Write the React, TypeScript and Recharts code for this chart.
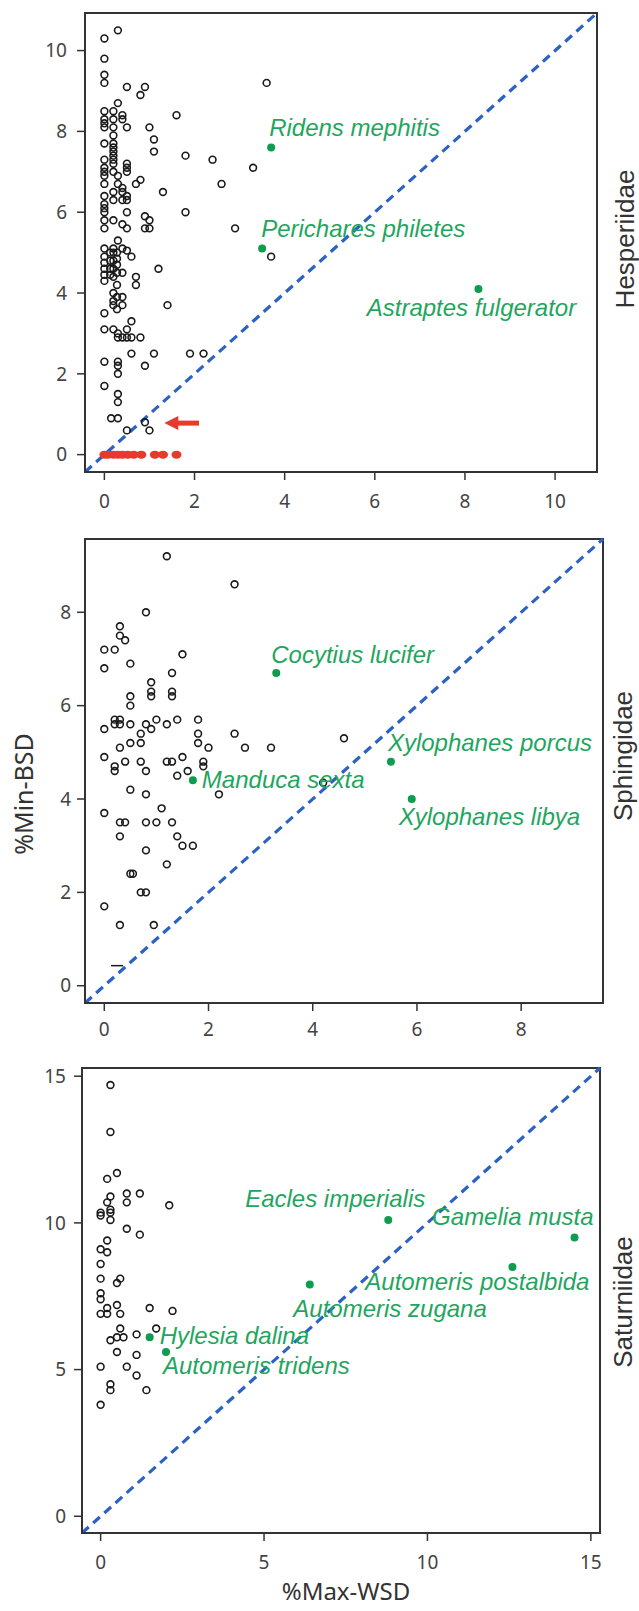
import {
    ScatterChart,
    Scatter,
    XAxis,
    YAxis,
    ReferenceLine,
    ReferenceArea,
} from "recharts";

// ---- data ----

const HESP_TICKS = [0, 2, 4, 6, 8, 10];
const SPH_TICKS = [0, 2, 4, 6, 8];
const SAT_TICKS = [0, 5, 10, 15];

const HESP_DOMAIN: [number, number] = [-0.43, 10.93];
const SPH_DOMAIN: [number, number] = [-0.37, 9.57];
const SAT_DOMAIN: [number, number] = [-0.57, 15.28];

const hespOpen: [number, number][] = [
    [0, 10.3], [0, 9.8], [0, 9.4], [0, 9.2], [0, 8.5], [0, 8.3], [0, 8.2], [0, 8.1],
    [0, 7.7], [0, 7.3], [0, 7.1], [0, 7.0], [0, 6.9], [0, 6.7], [0, 6.4], [0, 6.2],
    [0, 6.1], [0, 6.0], [0, 5.8], [0, 5.6], [0, 5.1], [0, 4.9], [0, 4.75], [0, 4.6],
    [0, 4.45], [0, 4.3], [0, 3.5], [0, 3.1], [0, 2.3], [0, 1.7],
    [0.13, 5.0], [0.13, 4.8], [0.13, 4.6], [0.13, 4.45],
    [0.2, 8.5], [0.2, 8.3], [0.2, 8.1], [0.2, 7.9], [0.2, 7.7], [0.2, 7.6], [0.2, 7.5],
    [0.2, 7.4], [0.2, 7.3], [0.2, 7.2], [0.2, 7.0], [0.2, 6.5], [0.2, 6.3], [0.2, 5.8],
    [0.2, 5.1], [0.2, 5.0], [0.2, 4.8], [0.2, 4.6], [0.2, 4.4], [0.2, 4.0], [0.2, 3.8],
    [0.2, 3.7], [0.2, 3.1], [0.15, 0.9],
    [0.3, 10.5], [0.3, 8.7], [0.3, 6.9], [0.3, 6.7], [0.3, 5.3], [0.28, 5.0], [0.28, 4.85],
    [0.28, 4.7], [0.28, 4.5], [0.28, 4.2], [0.28, 3.9], [0.28, 3.6], [0.3, 3.0], [0.3, 2.9],
    [0.3, 2.3], [0.3, 2.2], [0.3, 2.0], [0.3, 1.5], [0.3, 1.3], [0.3, 0.9],
    [0.4, 8.4], [0.4, 8.3], [0.4, 6.6], [0.4, 6.5], [0.4, 6.3], [0.4, 5.7], [0.4, 5.1],
    [0.4, 4.5], [0.4, 3.9], [0.4, 3.7], [0.4, 2.9],
    [0.5, 9.1], [0.5, 8.1], [0.5, 7.2], [0.5, 7.1], [0.5, 7.0], [0.5, 6.4], [0.5, 6.3],
    [0.5, 6.0], [0.5, 5.6], [0.5, 5.05], [0.5, 3.1], [0.5, 2.9], [0.5, 0.6],
    [0.6, 4.9], [0.6, 3.3], [0.6, 2.9], [0.6, 2.5],
    [0.7, 6.7], [0.7, 4.4], [0.7, 4.2],
    [0.8, 8.9], [0.8, 6.8], [0.8, 2.9],
    [0.9, 9.1], [0.9, 5.9], [0.9, 5.6], [0.9, 2.2], [0.9, 0.8],
    [1.0, 8.1], [1.0, 5.8], [1.0, 5.6], [1.0, 0.6],
    [1.1, 7.8], [1.1, 7.5], [1.1, 2.5],
    [1.2, 4.6], [1.3, 6.5], [1.4, 3.7], [1.6, 8.4], [1.8, 7.4], [1.8, 6.0],
    [1.9, 2.5], [2.2, 2.5], [2.4, 7.3], [2.6, 6.7], [2.9, 5.6], [3.3, 7.1],
    [3.6, 9.2], [3.7, 4.9],
];

const hespZeroX = [0, 0.08, 0.2, 0.3, 0.4, 0.52, 0.65, 0.82, 1.12, 1.3, 1.6];
const hespArrow = { fromX: 2.1, toX: 1.33, y: 0.78 };

const hespNamed: [string, number, number][] = [
    ["Ridens mephitis", 3.7, 7.6],
    ["Perichares philetes", 3.5, 5.1],
    ["Astraptes fulgerator", 8.3, 4.1],
];

const sphOpen: [number, number][] = [
    [1.2, 9.2], [2.5, 8.6], [0.8, 8.0], [0.3, 7.7], [0.3, 7.5], [0.4, 7.4], [0, 7.2],
    [0.2, 7.2], [1.5, 7.1], [0, 6.8], [0.5, 6.9], [1.3, 6.7], [0.9, 6.5], [0.9, 6.3],
    [0.9, 6.2], [1.3, 6.3], [1.3, 6.2], [0.5, 6.2], [0.5, 6.0], [0, 5.5], [0.2, 5.7],
    [0.3, 5.7], [0.2, 5.6], [0.3, 5.6], [0.5, 5.6], [0.8, 5.6], [0.9, 5.5], [1.0, 5.7],
    [1.2, 5.6], [1.4, 5.7], [0.7, 5.4], [1.8, 5.7], [1.8, 5.4], [1.8, 5.2], [2.0, 5.1],
    [2.5, 5.4], [2.7, 5.1], [3.2, 5.1], [0.5, 5.2], [0.7, 5.2], [0.3, 5.1], [0, 4.9],
    [0.2, 4.7], [0.2, 4.6], [0.4, 4.8], [0.7, 4.8], [0.8, 4.6], [1.2, 4.8], [1.3, 4.8],
    [1.5, 4.9], [1.6, 4.6], [1.9, 4.8], [1.9, 4.7], [1.4, 4.5], [0.5, 4.2], [0.8, 4.1],
    [2.2, 4.1], [0, 3.7], [1.1, 3.8], [0.3, 3.5], [0.4, 3.5], [0.8, 3.5], [1.0, 3.5],
    [1.3, 3.5], [0.3, 3.2], [1.4, 3.2], [1.5, 3.0], [1.7, 3.0], [0.8, 2.9], [1.2, 2.6],
    [0.5, 2.4], [0.55, 2.4], [0.7, 2.0], [0.8, 2.0], [0, 1.7], [0.3, 1.3], [0.95, 1.3],
    [4.6, 5.3], [4.2, 4.35],
];

const sphDash = { fromX: 0.13, toX: 0.36, y: 0.43 };

const sphNamed: [string, number, number][] = [
    ["Cocytius lucifer", 3.3, 6.7],
    ["Manduca sexta", 1.7, 4.4],
    ["Xylophanes porcus", 5.5, 4.8],
    ["Xylophanes libya", 5.9, 4.0],
];

const satOpen: [number, number][] = [
    [0.3, 14.7], [0.3, 13.1], [0.2, 11.5], [0.5, 11.7], [0.3, 10.9], [0.2, 10.7],
    [0.8, 11.0], [0.8, 10.7], [1.2, 11.0], [0, 10.35], [0, 10.25], [0.3, 10.45],
    [0.3, 10.35], [0.3, 10.1], [2.1, 10.6], [0.8, 9.8], [1.2, 9.6], [0.2, 9.4],
    [0, 9.1], [0.2, 9.0], [0, 8.6], [0, 8.1], [0.5, 7.95], [0.6, 8.1], [0, 7.6],
    [0, 7.4], [0.2, 7.1], [0.5, 7.2], [0, 6.9], [0.2, 6.9], [0.6, 6.9], [1.5, 7.1],
    [2.2, 7.0], [0.6, 6.4], [1.7, 6.4], [0.3, 6.0], [0.5, 6.1], [0.7, 6.1], [1.1, 6.2],
    [0.5, 5.6], [1.1, 5.5], [0, 5.1], [0.8, 5.1], [1.1, 4.8], [0.3, 4.5], [0.3, 4.3],
    [1.4, 4.3], [0, 3.8],
];

const satNamed: [string, number, number][] = [
    ["Eacles imperialis", 8.8, 10.1],
    ["Gamelia musta", 14.5, 9.5],
    ["Automeris postalbida", 12.6, 8.5],
    ["Automeris zugana", 6.4, 7.9],
    ["Hylesia dalina", 1.5, 6.1],
    ["Automeris tridens", 2.0, 5.6],
];

// where each species name sits relative to its dot: [dx, dy, anchor]
const LABEL_OFFSET: Record<string, [number, number, "start" | "middle" | "end"]> = {
    "Ridens mephitis": [-2, -12, "start"],
    "Perichares philetes": [-1, -12, "start"],
    "Astraptes fulgerator": [-7, 27, "middle"],
    "Cocytius lucifer": [-5, -10, "start"],
    "Manduca sexta": [9, 8, "start"],
    "Xylophanes porcus": [-3, -11, "start"],
    "Xylophanes libya": [-13, 26, "start"],
    "Eacles imperialis": [37, -13, "end"],
    "Gamelia musta": [19, -13, "end"],
    "Automeris postalbida": [77, 23, "end"],
    "Automeris zugana": [177, 32, "end"],
    "Hylesia dalina": [10, 7, "start"],
    "Automeris tridens": [-3, 22, "start"],
};

const AXIS = "#333";
const TICK_TEXT = "#444";
const DIAG = "#2b62c4";
const DOT_GREEN = "#0e9c4e";
const TEXT_GREEN = "#1fa65e";
const RED = "#e63a2c";
const SANS = "'Noto Sans', sans-serif";
const ARIAL = "'Liberation Sans', Arial, sans-serif";

const toPts = (rows: [number, number][]) => rows.map(([x, y]) => ({ x, y }));
const toNamed = (rows: [string, number, number][]) =>
    rows.map(([name, x, y]) => ({ name, x, y }));

function OpenDot(props: any) {
    const { cx, cy } = props;
    if (cx == null || cy == null) return null;
    return <circle cx={cx} cy={cy} r={3.4} fill="none" stroke="#1a1a1a" strokeWidth={1.6} />;
}

function RedDot(props: any) {
    const { cx, cy } = props;
    if (cx == null || cy == null) return null;
    return <ellipse cx={cx} cy={cy} rx={5} ry={4} fill={RED} />;
}

function NamedDot(props: any) {
    const { cx, cy, payload } = props;
    if (cx == null || cy == null) return null;
    const off = LABEL_OFFSET[payload.name] ?? [8, 0, "start"];
    return (
        <g>
            <circle cx={cx} cy={cy} r={4} fill={DOT_GREEN} />
            <text
                x={cx + off[0]}
                y={cy + off[1]}
                textAnchor={off[2]}
                fill={TEXT_GREEN}
                style={{ fontFamily: ARIAL, fontStyle: "italic", fontSize: 24 }}
            >
                {payload.name}
            </text>
        </g>
    );
}

function ArrowShape(props: any) {
    const { x1, y1, x2, y2 } = props;
    if ([x1, y1, x2, y2].some((v) => v == null || Number.isNaN(v))) return null;
    const head = 12;
    return (
        <g>
            <line x1={x1} y1={y1} x2={x2 + head} y2={y2} stroke={RED} strokeWidth={5} />
            <path
                d={`M${x2},${y2} L${x2 + head + 2},${y2 - 7} L${x2 + head + 2},${y2 + 7} Z`}
                fill={RED}
            />
        </g>
    );
}

// axis titles, placed from the axis box that recharts hands over
function makeYTitle(text: string) {
    return (props: any) => {
        const vb = props.viewBox;
        if (!vb) return null;
        const cx = vb.x - 1;
        const cy = vb.y + vb.height / 2 + 23;
        return (
            <text
                transform={`translate(${cx + 9},${cy}) rotate(-90)`}
                textAnchor="middle"
                fill={AXIS}
                style={{ fontFamily: SANS, fontSize: 25 }}
            >
                {text}
            </text>
        );
    };
}

function makeXTitle(text: string) {
    return (props: any) => {
        const vb = props.viewBox;
        if (!vb) return null;
        return (
            <text
                x={vb.x + vb.width / 2 + 5}
                y={vb.y + vb.height - 3}
                textAnchor="middle"
                fill={AXIS}
                style={{ fontFamily: SANS, fontSize: 24 }}
            >
                {text}
            </text>
        );
    };
}

interface PanelProps {
    top: number;
    height: number;
    margin: { top: number; right: number; left: number; bottom: number };
    domain: [number, number];
    ticks: number[];
    open: [number, number][];
    named: [string, number, number][];
    xTickMargin: number;
    yTickMargin: number;
    xAxisHeight: number;
    xLabel?: string;
    yLabel?: string;
    children?: React.ReactNode;
}

const tickStyle = { fill: TICK_TEXT, fontSize: 19, fontFamily: SANS };

function Panel(p: PanelProps) {
    const [lo, hi] = p.domain;
    return (
        <div style={{ position: "absolute", left: 0, top: p.top }}>
            <ScatterChart width={639} height={p.height} margin={p.margin}>
                <XAxis
                    type="number"
                    dataKey="x"
                    domain={p.domain}
                    ticks={p.ticks}
                    allowDataOverflow
                    height={p.xAxisHeight}
                    tickSize={8}
                    tickMargin={p.xTickMargin}
                    tick={tickStyle}
                    axisLine={{ stroke: AXIS, strokeWidth: 2 }}
                    tickLine={{ stroke: AXIS, strokeWidth: 1.5 }}
                    label={p.xLabel ? { content: makeXTitle(p.xLabel) } : undefined}
                />
                <YAxis
                    type="number"
                    dataKey="y"
                    domain={p.domain}
                    ticks={p.ticks}
                    allowDataOverflow
                    width={60}
                    tickSize={8}
                    tickMargin={p.yTickMargin}
                    tick={tickStyle}
                    axisLine={{ stroke: AXIS, strokeWidth: 2 }}
                    tickLine={{ stroke: AXIS, strokeWidth: 1.5 }}
                    label={p.yLabel ? { content: makeYTitle(p.yLabel) } : undefined}
                />
                <ReferenceArea
                    x1={lo}
                    x2={hi}
                    y1={lo}
                    y2={hi}
                    fill="none"
                    stroke={AXIS}
                    strokeWidth={2}
                    ifOverflow="visible"
                />
                <ReferenceLine
                    segment={[
                        { x: lo, y: lo },
                        { x: hi, y: hi },
                    ]}
                    stroke={DIAG}
                    strokeWidth={3.2}
                    strokeDasharray="9 6"
                    ifOverflow="visible"
                />
                {p.children}
                <Scatter
                    data={toPts(p.open)}
                    shape={OpenDot}
                    isAnimationActive={false}
                />
                <Scatter
                    data={toNamed(p.named)}
                    shape={NamedDot}
                    isAnimationActive={false}
                />
            </ScatterChart>
        </div>
    );
}

const familyText = {
    fill: "#333",
    style: { fontFamily: ARIAL, fontSize: 26 },
};

export default function App() {
    return (
        <div style={{ position: "relative", width: 639, height: 1611, background: "#fff" }}>
            <style>{"body{margin:0}"}</style>
            <Panel
                top={0}
                height={520}
                margin={{ top: 13, right: 42, left: 25, bottom: 8 }}
                domain={HESP_DOMAIN}
                ticks={HESP_TICKS}
                open={hespOpen}
                named={hespNamed}
                xTickMargin={15}
                yTickMargin={10}
                xAxisHeight={40}
            >
                <Scatter
                    data={hespZeroX.map((x) => ({ x, y: 0 }))}
                    shape={RedDot}
                    isAnimationActive={false}
                />
                <ReferenceLine
                    segment={[
                        { x: hespArrow.fromX, y: hespArrow.y },
                        { x: hespArrow.toX, y: hespArrow.y },
                    ]}
                    shape={ArrowShape}
                    ifOverflow="visible"
                />
            </Panel>
            <Panel
                top={520}
                height={540}
                margin={{ top: 19, right: 36, left: 25, bottom: 17 }}
                domain={SPH_DOMAIN}
                ticks={SPH_TICKS}
                open={sphOpen}
                named={sphNamed}
                xTickMargin={12}
                yTickMargin={6}
                xAxisHeight={40}
                yLabel="%Min-BSD"
            >
                <ReferenceLine
                    segment={[
                        { x: sphDash.fromX, y: sphDash.y },
                        { x: sphDash.toX, y: sphDash.y },
                    ]}
                    stroke="#1a1a1a"
                    strokeWidth={1.5}
                    ifOverflow="visible"
                />
            </Panel>
            <Panel
                top={1060}
                height={551}
                margin={{ top: 8, right: 39, left: 22, bottom: 8 }}
                domain={SAT_DOMAIN}
                ticks={SAT_TICKS}
                open={satOpen}
                named={satNamed}
                xTickMargin={15}
                yTickMargin={8}
                xAxisHeight={70}
                xLabel="%Max-WSD"
            />
            <svg
                width={639}
                height={1611}
                style={{ position: "absolute", left: 0, top: 0, pointerEvents: "none" }}
            >
                <text {...familyText} textAnchor="middle" transform="translate(634,239) rotate(-90)">
                    Hesperiidae
                </text>
                <text {...familyText} textAnchor="middle" transform="translate(632,756) rotate(-90)">
                    Sphingidae
                </text>
                <text {...familyText} textAnchor="middle" transform="translate(632,1302) rotate(-90)">
                    Saturniidae
                </text>
            </svg>
        </div>
    );
}
